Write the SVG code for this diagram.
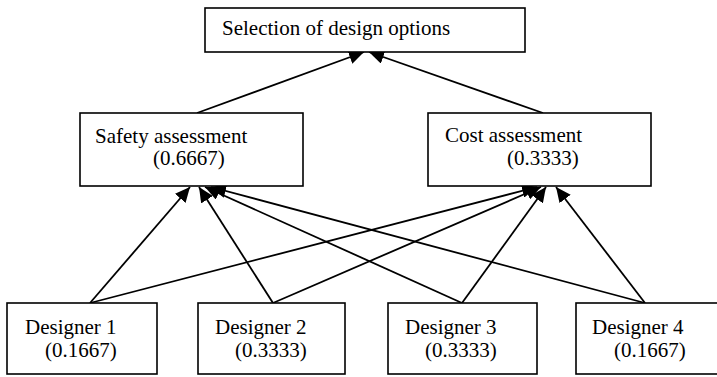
<svg xmlns="http://www.w3.org/2000/svg" width="717" height="377" viewBox="0 0 717 377">
  <style>
    .box { fill: #ffffff; stroke: #000000; stroke-width: 1.6; }
    .lbl { font-family: "Liberation Serif", "Times New Roman", serif; font-size: 21px; fill: #000000; }
    .edge { fill: none; stroke: #000000; stroke-width: 1.8; marker-end: url(#head); }
  </style>
  <defs>
    <marker id="head" markerUnits="userSpaceOnUse" markerWidth="16" markerHeight="14" refX="15" refY="7" orient="auto">
      <path d="M0,0 L15,7 L0,14 Z" fill="#000000"/>
    </marker>
  </defs>
  <rect width="717" height="377" fill="#ffffff"/>

  <!-- connectors: weights flow upward into the criteria and the goal -->
  <g id="connectors">
    <line class="edge" x1="197" y1="113" x2="364" y2="52"/>
    <line class="edge" x1="543" y1="113" x2="369" y2="52"/>

    <line class="edge" x1="90" y1="303" x2="190" y2="187"/>
    <line class="edge" x1="90" y1="303" x2="537" y2="187"/>
    <line class="edge" x1="273" y1="303" x2="199" y2="187"/>
    <line class="edge" x1="273" y1="303" x2="541" y2="187"/>
    <line class="edge" x1="462" y1="303" x2="205" y2="187"/>
    <line class="edge" x1="462" y1="303" x2="546" y2="187"/>
    <line class="edge" x1="645" y1="303" x2="211" y2="187"/>
    <line class="edge" x1="645" y1="303" x2="556" y2="187"/>
  </g>

  <g id="goal">
    <rect class="box" x="205" y="8" width="320" height="44"/>
    <text class="lbl" x="222" y="35">Selection of design options</text>
  </g>

  <g id="safety">
    <rect class="box" x="80" y="113" width="223" height="73"/>
    <text class="lbl" x="95" y="143">Safety assessment</text>
    <text class="lbl" x="153" y="165">(0.6667)</text>
  </g>

  <g id="cost">
    <rect class="box" x="428" y="113" width="223" height="73"/>
    <text class="lbl" x="445" y="142">Cost assessment</text>
    <text class="lbl" x="507" y="165">(0.3333)</text>
  </g>

  <g id="designer1">
    <rect class="box" x="7" y="303" width="150" height="71"/>
    <text class="lbl" x="25" y="334">Designer 1</text>
    <text class="lbl" x="45" y="357">(0.1667)</text>
  </g>

  <g id="designer2">
    <rect class="box" x="198" y="303" width="147" height="71"/>
    <text class="lbl" x="215" y="334">Designer 2</text>
    <text class="lbl" x="235" y="357">(0.3333)</text>
  </g>

  <g id="designer3">
    <rect class="box" x="388" y="303" width="149" height="71"/>
    <text class="lbl" x="405" y="334">Designer 3</text>
    <text class="lbl" x="425" y="357">(0.3333)</text>
  </g>

  <g id="designer4">
    <rect class="box" x="576" y="303" width="146" height="71"/>
    <text class="lbl" x="592" y="334">Designer 4</text>
    <text class="lbl" x="614" y="357">(0.1667)</text>
  </g>
</svg>
